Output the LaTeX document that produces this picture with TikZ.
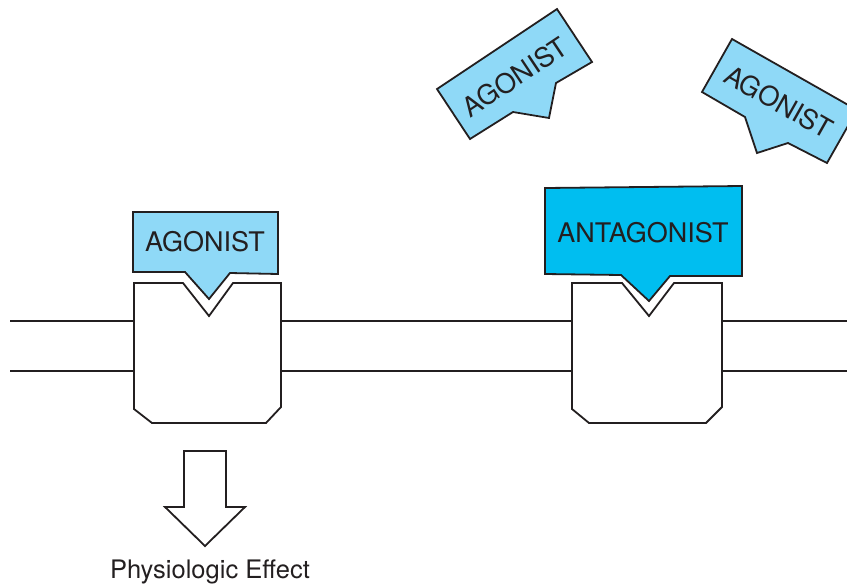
\documentclass[tikz,border=0pt]{standalone}
\usepackage{fontspec}
\setmainfont{TeX Gyre Heros}
\definecolor{ink}{HTML}{231F20}
\definecolor{agofill}{HTML}{8FD9F7}
\definecolor{antfill}{HTML}{00BEF0}
\begin{document}
\begin{tikzpicture}[x=1pt,y=-1pt,
  outline/.style={draw=ink,line width=1.8pt,line join=miter},
  receptor/.style={outline,fill=white},
  agobox/.style={outline,fill=agofill},
  antbox/.style={outline,fill=antfill},
  label/.style={text=ink,font=\fontsize{27}{32}\selectfont,inner sep=0pt},
  caption/.style={text=ink,font=\fontsize{25.5}{30}\selectfont,inner sep=0pt},
  membrane/.style={draw=ink,line width=1.8pt}]
\useasboundingbox (0,0) rectangle (847,587);
\clip (0,0) rectangle (847,587);

% membrane ends and receptor anchor points
\coordinate (mLtop) at (10,321);
\coordinate (mLbot) at (10,371);
\coordinate (mRtop) at (847,321);
\coordinate (mRbot) at (847,371);
\coordinate (r1Ltop) at (134,321);
\coordinate (r1Lbot) at (134,371);
\coordinate (r1Rtop) at (281,321);
\coordinate (r1Rbot) at (281,371);
\coordinate (r2Ltop) at (572,321);
\coordinate (r2Lbot) at (572,371);
\coordinate (r2Rtop) at (722,321);
\coordinate (r2Rbot) at (722,371);

% membrane bilayer lines
\draw[membrane] (mLtop) -- (r1Ltop);
\draw[membrane] (mLbot) -- (r1Lbot);
\draw[membrane] (r1Rtop) -- (r2Ltop);
\draw[membrane] (r1Rbot) -- (r2Lbot);
\draw[membrane] (r2Rtop) -- (mRtop);
\draw[membrane] (r2Rbot) -- (mRbot);

% receptors with binding notch
\draw[receptor] (134,283) -- (183,283) -- (209,316) -- (233,283) -- (281,283)
  -- (281,407) -- (266,423) -- (152,423) -- (134,409) -- cycle;
\draw[receptor] (572,283) -- (622,283) -- (649,316) -- (674,283) -- (722,283)
  -- (722,407) -- (706,423) -- (589,423) -- (572,409) -- cycle;

% bound agonist
\draw[agobox] (133,212) -- (278,212) -- (278,274) -- (230,273) -- (209,299)
  -- (185,272) -- (133,272) -- cycle;
\node[label] (ago1) at (205,242) {AGONIST};

% bound antagonist
\draw[antbox] (545,188) -- (742,186) -- (742,276) -- (670,276) -- (649,301)
  -- (621,275) -- (545,274) -- cycle;
\node[label] (ant) at (643,233) {ANTAGONIST};

% free agonists
\draw[agobox] (437,89) -- (557,9) -- (592,62) -- (556,83) -- (549,118)
  -- (513,112) -- (470,139) -- cycle;
\node[label,rotate=33.7] (ago2) at (515,77) {AGONIST};

\draw[agobox] (702,92) -- (732,39) -- (857,110) -- (827,163) -- (788,143)
  -- (757,153) -- (745,117) -- cycle;
\node[label,rotate=-29.5] (ago3) at (779,102) {AGONIST};

% effect arrow
\draw[outline,fill=white] (184,451) -- (226,451) -- (226,507) -- (245,507)
  -- (205,546) -- (165,507) -- (184,507) -- cycle;
\node[caption] (effect) at (210,572) {Physiologic Effect};
\end{tikzpicture}
\end{document}
